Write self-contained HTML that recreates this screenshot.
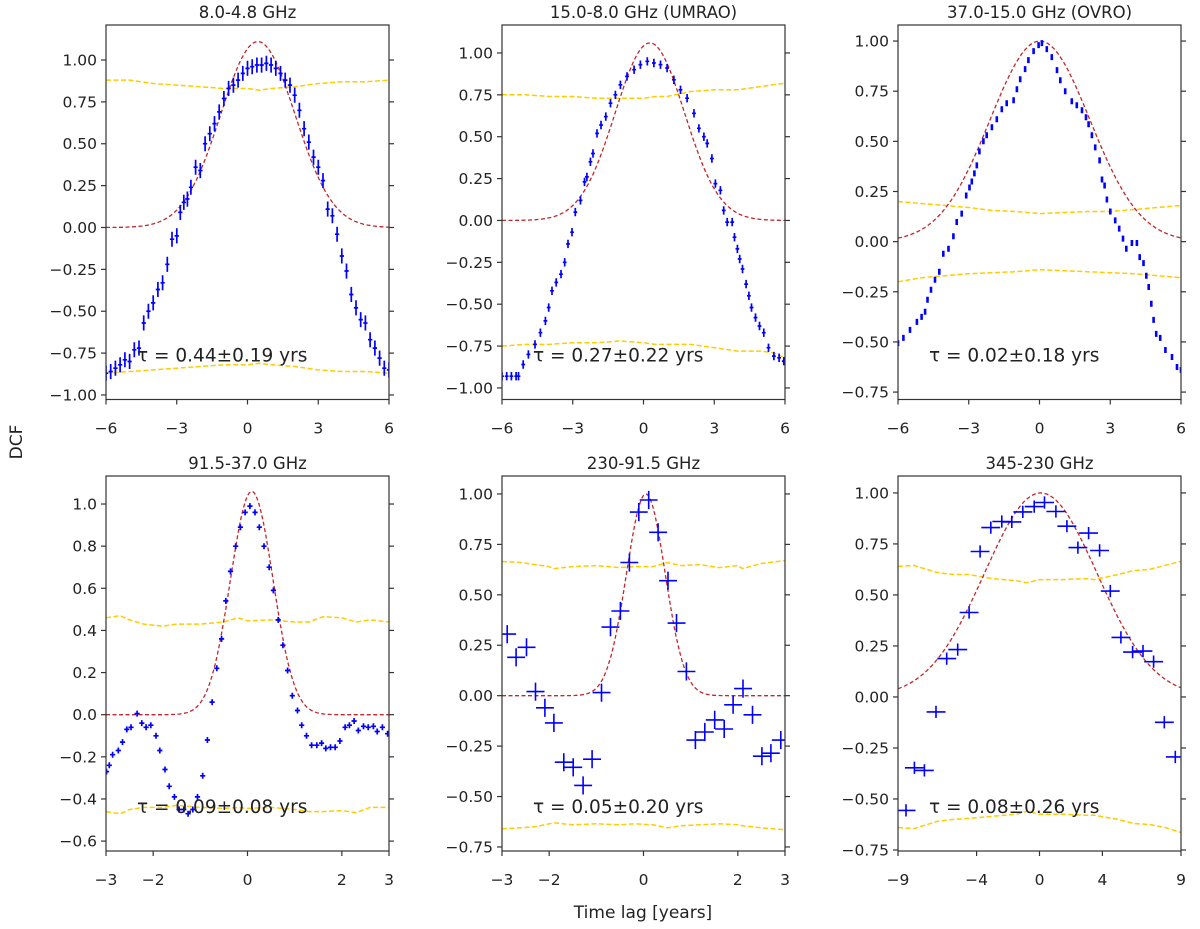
<!DOCTYPE html>
<html><head><meta charset="utf-8"><style>
html,body{margin:0;padding:0;background:#fff;}
svg{display:block;font-family:"DejaVu Sans","Liberation Sans",sans-serif;}
</style></head><body>
<svg id="fig" width="1200" height="929" viewBox="0 0 1200 929" xmlns="http://www.w3.org/2000/svg">
<rect width="1200" height="929" fill="#fff"/>
<text x="0" y="0" transform="translate(22,442) rotate(-90)" text-anchor="middle" font-size="17" fill="#222">DCF</text>
<text x="643" y="918" text-anchor="middle" font-size="17" fill="#222">Time lag [years]</text>
</svg>
<script>
// ---- Panel 1: 8.0-4.8 GHz ----
const p1Lag = [-6,-5.8,-5.6,-5.4,-5.2,-5.0,-4.8,-4.6,-4.4,-4.2,-4.0,-3.8,-3.6,-3.4,-3.2,-3.0,-2.85,-2.7,-2.55,-2.4,-2.2,-2.0,-1.8,-1.6,-1.4,-1.2,-1.0,-0.8,-0.6,-0.4,-0.2,0,0.2,0.4,0.6,0.8,1.0,1.2,1.4,1.6,1.8,2.0,2.2,2.4,2.6,2.8,3.0,3.2,3.4,3.6,3.8,4.0,4.2,4.4,4.6,4.8,5.0,5.2,5.4,5.6,5.8,6.0];
const p1Dcf = [-0.87,-0.86,-0.84,-0.82,-0.79,-0.80,-0.73,-0.72,-0.57,-0.50,-0.45,-0.37,-0.33,-0.22,-0.07,-0.05,0.09,0.15,0.17,0.24,0.36,0.34,0.50,0.56,0.62,0.69,0.77,0.83,0.85,0.88,0.92,0.95,0.96,0.97,0.97,0.98,0.97,0.95,0.92,0.88,0.85,0.79,0.70,0.59,0.51,0.42,0.36,0.28,0.11,0.07,-0.04,-0.17,-0.26,-0.40,-0.48,-0.55,-0.57,-0.67,-0.72,-0.78,-0.84,-0.85];
const p1Fit = [1.11, 0.44, 1.58];
const p1SigLag = [-6,-5,-4,-3,-2,-1,0,0.5,1,2,3,4,5,6];
const p1SigUp = [0.88,0.88,0.86,0.85,0.84,0.83,0.83,0.82,0.83,0.84,0.86,0.87,0.87,0.88];
const p1SigLo = [-0.87,-0.86,-0.85,-0.84,-0.83,-0.82,-0.82,-0.81,-0.82,-0.83,-0.85,-0.86,-0.86,-0.87];

// ---- Panel 2: 15.0-8.0 GHz (UMRAO) ----
const p2Lag = [-6,-5.8,-5.6,-5.4,-5.3,-5.1,-4.88,-4.6,-4.37,-4.16,-4.02,-3.88,-3.7,-3.5,-3.34,-3.2,-3.03,-2.89,-2.67,-2.5,-2.4,-2.25,-2.14,-1.97,-1.8,-1.6,-1.4,-1.19,-0.98,-0.7,-0.4,-0.13,0.16,0.44,0.72,1.0,1.29,1.57,1.85,2.14,2.35,2.56,2.7,2.9,3.05,3.26,3.4,3.55,3.76,3.86,3.98,4.08,4.2,4.35,4.47,4.58,4.75,4.92,5.1,5.3,5.53,5.75,5.95];
const p2Dcf = [-0.93,-0.93,-0.93,-0.93,-0.93,-0.86,-0.80,-0.74,-0.67,-0.60,-0.52,-0.42,-0.37,-0.32,-0.25,-0.14,-0.07,0.05,0.12,0.23,0.26,0.35,0.40,0.52,0.57,0.62,0.70,0.75,0.81,0.86,0.90,0.93,0.95,0.94,0.93,0.91,0.84,0.78,0.73,0.64,0.55,0.50,0.46,0.37,0.22,0.18,0.06,-0.01,-0.01,-0.10,-0.17,-0.23,-0.29,-0.38,-0.45,-0.52,-0.58,-0.63,-0.67,-0.76,-0.81,-0.82,-0.84];
const p2Fit = [1.06, 0.27, 1.47];
const p2SigLag = [-6,-5,-4,-3,-2,-1,0,0.5,1,2,3,4,5,5.5,6];
const p2SigUp = [0.75,0.75,0.74,0.74,0.73,0.73,0.73,0.74,0.74,0.77,0.78,0.78,0.80,0.81,0.82];
const p2SigLo = [-0.75,-0.74,-0.74,-0.73,-0.73,-0.72,-0.73,-0.74,-0.74,-0.74,-0.76,-0.78,-0.78,-0.79,-0.82];

// ---- Panel 3: 37.0-15.0 GHz (OVRO) ----
const p3Lag = [-6,-5.77,-5.49,-5.2,-5.0,-4.85,-4.75,-4.6,-4.43,-4.25,-4.08,-3.86,-3.65,-3.51,-3.3,-3.11,-2.97,-2.87,-2.76,-2.66,-2.55,-2.38,-2.24,-2.02,-1.81,-1.6,-1.39,-1.1,-0.96,-0.82,-0.61,-0.47,-0.25,-0.04,0.1,0.31,0.52,0.74,0.88,1.09,1.37,1.58,1.8,1.97,2.08,2.22,2.36,2.55,2.65,2.76,2.86,3.0,3.21,3.38,3.54,3.68,3.92,4.13,4.25,4.41,4.53,4.63,4.74,4.84,4.95,5.12,5.34,5.62,5.83,6.0];
const p3Dcf = [-0.506,-0.48,-0.44,-0.40,-0.375,-0.35,-0.29,-0.24,-0.19,-0.15,-0.06,-0.035,0.027,0.098,0.14,0.23,0.27,0.30,0.34,0.38,0.45,0.50,0.53,0.57,0.61,0.66,0.69,0.705,0.76,0.81,0.86,0.905,0.95,0.98,0.99,0.96,0.92,0.855,0.805,0.75,0.70,0.68,0.655,0.62,0.585,0.53,0.47,0.405,0.31,0.28,0.21,0.15,0.106,0.065,0.015,-0.035,-0.007,-0.007,-0.077,-0.107,-0.17,-0.226,-0.31,-0.39,-0.46,-0.48,-0.54,-0.575,-0.625,-0.64];
const p3Fit = [1.0, 0.02, 2.12];
const p3SigLag = [-6,-5,-4,-3,-2,-1,0,1,2,3,4,5,6];
const p3SigUp = [0.20,0.19,0.18,0.17,0.155,0.15,0.14,0.145,0.15,0.15,0.16,0.17,0.18];
const p3SigLo = [-0.20,-0.18,-0.17,-0.16,-0.155,-0.15,-0.14,-0.145,-0.15,-0.155,-0.16,-0.17,-0.18];

// ---- Panel 4: 91.5-37.0 GHz ----
const p4Lag = [-2.99,-2.93,-2.86,-2.74,-2.65,-2.56,-2.47,-2.34,-2.24,-2.15,-2.05,-1.94,-1.86,-1.75,-1.66,-1.55,-1.45,-1.35,-1.26,-1.16,-1.06,-0.95,-0.85,-0.75,-0.65,-0.55,-0.46,-0.36,-0.25,-0.15,-0.05,0.05,0.16,0.25,0.35,0.46,0.55,0.65,0.75,0.85,0.95,1.06,1.15,1.25,1.36,1.47,1.57,1.66,1.76,1.86,1.96,2.07,2.16,2.26,2.35,2.46,2.56,2.67,2.75,2.86,2.97];
const p4Dcf = [-0.27,-0.24,-0.19,-0.17,-0.13,-0.07,-0.06,0.005,-0.04,-0.06,-0.05,-0.10,-0.17,-0.26,-0.34,-0.39,-0.45,-0.45,-0.47,-0.45,-0.39,-0.29,-0.12,0.06,0.22,0.36,0.54,0.68,0.80,0.89,0.96,0.99,0.96,0.89,0.80,0.70,0.59,0.45,0.33,0.21,0.09,0.02,-0.05,-0.10,-0.145,-0.145,-0.135,-0.16,-0.155,-0.155,-0.125,-0.06,-0.05,-0.03,-0.075,-0.055,-0.06,-0.055,-0.08,-0.06,-0.09];
const p4Fit = [1.06, 0.09, 0.45];
const p4SigLag = [-3,-2.7,-2.5,-2.2,-1.8,-1.5,-1,-0.5,-0.2,0,0.5,1,1.3,1.6,2,2.3,2.6,3];
const p4SigUp = [0.46,0.47,0.45,0.43,0.42,0.43,0.43,0.44,0.46,0.445,0.45,0.44,0.44,0.465,0.46,0.44,0.45,0.44];
const p4SigLo = [-0.46,-0.47,-0.45,-0.44,-0.44,-0.43,-0.44,-0.445,-0.44,-0.445,-0.44,-0.45,-0.46,-0.46,-0.455,-0.465,-0.44,-0.44];

// ---- Panel 5: 230-91.5 GHz ----
const p5Lag = [-2.89,-2.70,-2.48,-2.29,-2.09,-1.90,-1.69,-1.49,-1.28,-1.09,-0.89,-0.70,-0.49,-0.30,-0.10,0.11,0.31,0.52,0.70,0.91,1.10,1.30,1.51,1.71,1.90,2.11,2.31,2.51,2.70,2.91];
const p5Dcf = [0.305,0.19,0.24,0.02,-0.06,-0.135,-0.33,-0.355,-0.445,-0.315,0.015,0.34,0.42,0.66,0.91,0.97,0.81,0.57,0.36,0.12,-0.22,-0.18,-0.12,-0.165,-0.045,0.035,-0.095,-0.30,-0.285,-0.22];
const p5Fit = [1.0, 0.05, 0.41];
const p5SigLag = [-3,-2.6,-2.3,-2,-1.9,-1.5,-1,-0.5,-0.2,0.2,0.5,0.8,1.2,1.6,2,2.1,2.5,3];
const p5SigUp = [0.665,0.66,0.65,0.64,0.63,0.64,0.645,0.635,0.64,0.64,0.66,0.645,0.65,0.635,0.645,0.63,0.655,0.67];
const p5SigLo = [-0.66,-0.655,-0.65,-0.635,-0.63,-0.64,-0.635,-0.64,-0.635,-0.64,-0.655,-0.645,-0.64,-0.635,-0.64,-0.645,-0.655,-0.665];

// ---- Panel 6: 345-230 GHz ----
const p6Lag = [-8.49,-7.96,-7.32,-6.58,-5.9,-5.2,-4.48,-3.78,-3.1,-2.4,-1.76,-1.06,-0.34,0.32,1.04,1.74,2.44,3.12,3.82,4.5,5.18,5.92,6.58,7.26,7.94,8.64];
const p6Dcf = [-0.556,-0.347,-0.36,-0.073,0.188,0.232,0.414,0.713,0.83,0.86,0.858,0.907,0.933,0.953,0.909,0.837,0.732,0.803,0.718,0.519,0.292,0.22,0.225,0.173,-0.124,-0.294];
const p6Fit = [1.0, 0.08, 3.58];
const p6SigLag = [-9,-8,-6.5,-5.5,-4.5,-3,-1.5,-0.8,0,1.5,3,3.5,5,6,7,8,9];
const p6SigUp = [0.64,0.645,0.61,0.60,0.60,0.58,0.57,0.56,0.575,0.575,0.58,0.575,0.60,0.62,0.625,0.645,0.665];
const p6SigLo = [-0.64,-0.645,-0.61,-0.60,-0.595,-0.585,-0.575,-0.56,-0.575,-0.575,-0.58,-0.58,-0.60,-0.62,-0.625,-0.64,-0.665];

const titles = ["8.0-4.8 GHz","15.0-8.0 GHz (UMRAO)","37.0-15.0 GHz (OVRO)","91.5-37.0 GHz","230-91.5 GHz","345-230 GHz"];
const tauLabels = ["τ = 0.44±0.19 yrs","τ = 0.27±0.22 yrs","τ = 0.02±0.18 yrs","τ = 0.09±0.08 yrs","τ = 0.05±0.20 yrs","τ = 0.08±0.26 yrs"];
const xTicks1 = [-6,-3,0,3,6];
const xTicks4 = [-3,-2,0,2,3];
const xTicks6 = [-9,-4,0,4,9];
const yTicksA = [-1.0,-0.75,-0.5,-0.25,0,0.25,0.5,0.75,1.0];
const yTicksB = [-0.75,-0.5,-0.25,0,0.25,0.5,0.75,1.0];
const yTicksC = [-0.6,-0.4,-0.2,0,0.2,0.4,0.6,0.8,1.0];

const NS = "http://www.w3.org/2000/svg";
const svg = document.getElementById('fig');
function mk(tag, attrs, parent){
  const e = document.createElementNS(NS, tag);
  for (const k in attrs) e.setAttribute(k, attrs[k]);
  (parent||svg).appendChild(e);
  return e;
}
function fmt(v, d){ const s = Math.abs(v).toFixed(d); return (v < -1e-9 ? "\u2212" : "") + s; }

const panels = [
  {L:106,T:25,B:399.5,xr:[-6,6],yr:[-1.027,1.209],xt:xTicks1,yt:yTicksA,yd:2,lag:p1Lag,dcf:p1Dcf,fit:p1Fit,sl:p1SigLag,su:p1SigUp,sd:p1SigLo,xe:0.09,ye:0.045,sw:1.7},
  {L:502,T:25,B:399.5,xr:[-6,6],yr:[-1.069,1.167],xt:xTicks1,yt:yTicksA,yd:2,lag:p2Lag,dcf:p2Dcf,fit:p2Fit,sl:p2SigLag,su:p2SigUp,sd:p2SigLo,xe:0.08,ye:0.025,sw:1.7},
  {L:898,T:25,B:399.5,xr:[-6,6],yr:[-0.787,1.08],xt:xTicks1,yt:yTicksB,yd:2,lag:p3Lag,dcf:p3Dcf,fit:p3Fit,sl:p3SigLag,su:p3SigUp,sd:p3SigLo,xe:0.05,ye:0.006,sw:2.6},
  {L:106,T:476,B:851,xr:[-3,3],yr:[-0.647,1.133],xt:xTicks4,yt:yTicksC,yd:1,lag:p4Lag,dcf:p4Dcf,fit:p4Fit,sl:p4SigLag,su:p4SigUp,sd:p4SigLo,xe:0.055,ye:0.012,sw:1.7},
  {L:502,T:476,B:851,xr:[-3,3],yr:[-0.77,1.089],xt:xTicks4,yt:yTicksB,yd:2,lag:p5Lag,dcf:p5Dcf,fit:p5Fit,sl:p5SigLag,su:p5SigUp,sd:p5SigLo,xe:0.19,ye:0.045,sw:1.6},
  {L:898,T:476,B:851,xr:[-9,9],yr:[-0.755,1.083],xt:xTicks6,yt:yTicksB,yd:2,lag:p6Lag,dcf:p6Dcf,fit:p6Fit,sl:p6SigLag,su:p6SigUp,sd:p6SigLo,xe:0.6,ye:0.03,sw:1.6}
];
const W = 283;

panels.forEach((p, i) => {
  const g = mk('g', {});
  
  
  const sx = v => p.L + (v - p.xr[0]) / (p.xr[1] - p.xr[0]) * W;
  const sy = v => p.B - (v - p.yr[0]) / (p.yr[1] - p.yr[0]) * (p.B - p.T);
  const cid = 'clip' + i;
  const cp = mk('clipPath', {id: cid}, g);
  mk('rect', {x:p.L, y:p.T, width:W, height:p.B-p.T}, cp);
  const plot = mk('g', {'clip-path':'url(#' + cid + ')'}, g);

  [p.su, p.sd].forEach((arr, k) => {
    const d = arr.map((v, j) => (j ? 'L' : 'M') + sx(p.sl[j]).toFixed(1) + ',' + sy(v).toFixed(1)).join('');
    const e = mk('path', {d:d, fill:'none', stroke:'#ffcc00', 'stroke-width':1.5, 'stroke-dasharray':'5,2.5'}, plot);
    
    
  });
  let d = '';
  for (let j = 0; j <= 200; j++) {
    const x = p.xr[0] + (p.xr[1]-p.xr[0]) * j / 200;
    const y = p.fit[0] * Math.exp(-Math.pow(x - p.fit[1], 2) / (2 * p.fit[2] * p.fit[2]));
    d += (j ? 'L' : 'M') + sx(x).toFixed(1) + ',' + sy(y).toFixed(1);
  }
  const fitEl = mk('path', {d:d, fill:'none', stroke:'#c0282d', 'stroke-width':1.3, 'stroke-dasharray':'4,2.5'}, plot);
  
  
  p.lag.forEach((x, j) => {
    const y = p.dcf[j];
    const cx = sx(x), cy = sy(y);
    const pt = mk('path', {d:'M' + sx(x - p.xe).toFixed(1) + ',' + cy.toFixed(1) + 'H' + sx(x + p.xe).toFixed(1) +
      'M' + cx.toFixed(1) + ',' + Math.min(sy(y + p.ye), cy - 3).toFixed(1) + 'V' + Math.max(sy(y - p.ye), cy + 3).toFixed(1),
      stroke:'#0000ff', 'stroke-width':p.sw, fill:'none'}, plot);
    
    
  });
  const fr = mk('rect', {x:p.L, y:p.T, width:W, height:p.B-p.T, fill:'none', stroke:'#333', 'stroke-width':1.2}, g);
  
  
  p.xt.forEach(v => {
    const x = sx(v);
    mk('line', {x1:x, y1:p.B, x2:x, y2:p.B+5, stroke:'#333', 'stroke-width':1.2}, g);
    const t = mk('text', {x:x, y:p.B+34, 'text-anchor':'middle', 'font-size':15.5, fill:'#222'}, g);
    t.textContent = fmt(v, 0);
    
    
  });
  p.yt.forEach(v => {
    const y = sy(v);
    mk('line', {x1:p.L-5, y1:y, x2:p.L, y2:y, stroke:'#333', 'stroke-width':1.2}, g);
    mk('line', {x1:p.L+W, y1:y, x2:p.L+W+5, y2:y, stroke:'#333', 'stroke-width':1.2}, g);
    const t = mk('text', {x:p.L-9, y:y+5.5, 'text-anchor':'end', 'font-size':15.5, fill:'#222'}, g);
    t.textContent = fmt(v, p.yd);
    
    
  });
  const tt = mk('text', {x:p.L + W/2, y:p.T - 7, 'text-anchor':'middle', 'font-size':16.5, fill:'#222'}, g);
  tt.textContent = titles[i];
  
  
  const tl = mk('text', {x:p.L + 31, y:p.B - 38, 'font-size':18.5, fill:'#222'}, g);
  tl.textContent = tauLabels[i];
  
  
});
</script>
</body></html>
